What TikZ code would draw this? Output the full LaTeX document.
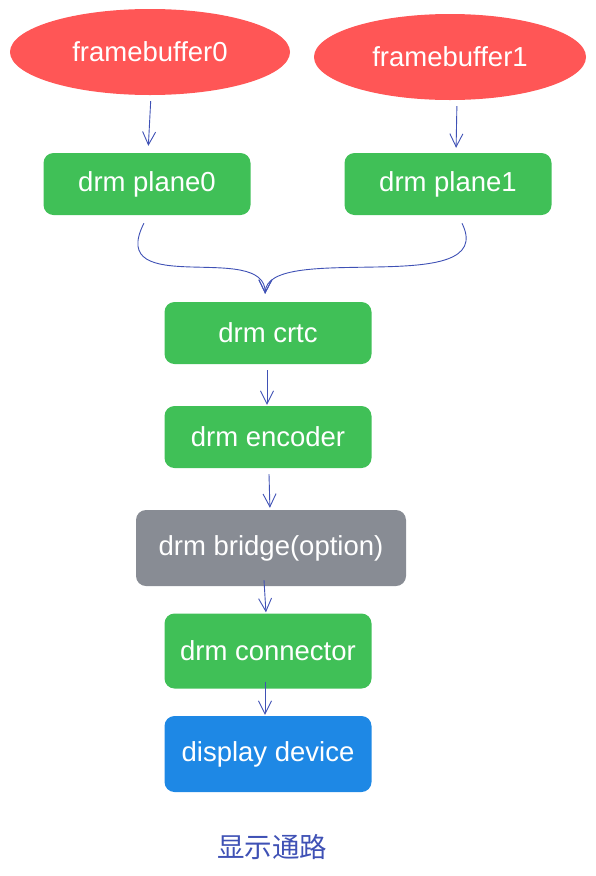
\documentclass[tikz,border=0pt]{standalone}
\usepackage{fontspec}
\setmainfont{Liberation Sans}
\newfontfamily\cjk{Noto Sans CJK SC}
\usetikzlibrary{shapes.geometric,arrows.meta}
\definecolor{FbRed}{HTML}{FF5656}
\definecolor{DrmGreen}{HTML}{40C057}
\definecolor{OptGrey}{HTML}{888C94}
\definecolor{DevBlue}{HTML}{1E88E5}
\definecolor{Wire}{HTML}{3F51B5}
\begin{document}
\begin{tikzpicture}[x=1pt, y=-1pt,
    fbuf/.style={ellipse, fill=FbRed, text=white, inner sep=0pt,
      minimum width=280pt, minimum height=86pt,
      font=\fontsize{27.5}{32}\selectfont},
    stage/.style={rounded corners=10pt, fill=DrmGreen, text=white,
      inner sep=0pt, minimum width=207pt, minimum height=62pt,
      font=\fontsize{27.5}{32}\selectfont},
    flow/.style={draw=Wire, line width=0.9pt,
      -{Straight Barb[length=13pt,width=13pt,line width=0.9pt]},
      shorten <=6pt, shorten >=1pt},
  ]
  \useasboundingbox (0,0) rectangle (596,876);
  % sources
  \node[fbuf] (fb0) at (150,52) {framebuffer0};
  \node[fbuf, minimum width=272pt] (fb1) at (450,57) {framebuffer1};
  % pipeline
  \node[stage] (plane0) at (147,184) {drm plane0};
  \node[stage] (plane1) at (448,184) {drm plane1};
  \node[stage] (crtc) at (268,333) {drm crtc};
  \node[stage] (enc) at (268,437) {drm encoder};
  \node[stage, fill=OptGrey, minimum width=270pt, minimum height=76pt]
    (bridge) at (271,548) {drm bridge(option)};
  \node[stage, minimum height=75pt] (conn) at (268,651) {drm connector};
  \node[stage, fill=DevBlue, minimum height=76pt]
    (disp) at (268,754) {display device};
  \node[text=Wire, font=\cjk\fontsize{27.5}{32}\selectfont] (caption)
    at (272,847) {显示通路};
  % wires
  \draw[flow, shorten >=7pt] ([xshift=1pt]fb0.south) -- ([xshift=1pt]plane0.north);
  \draw[flow, shorten >=5pt] ([xshift=7pt]fb1.south) -- ([xshift=8pt]plane1.north);
  \draw[flow, shorten <=9pt, shorten >=8pt] ([xshift=1pt]plane0.south)
    .. controls (105,300) and (266,240) .. ([xshift=-3pt]crtc.north);
  \draw[flow, shorten <=9pt, shorten >=8pt] ([xshift=10pt]plane1.south)
    .. controls (500,300) and (266,240) .. ([xshift=-3pt]crtc.north);
  \draw[flow] ([xshift=-1pt]crtc.south) -- ([xshift=-1pt]enc.north);
  \draw[flow, shorten >=2pt] (enc) -- (bridge);
  \draw[flow, shorten <=0pt] ([xshift=-7pt,yshift=6pt]bridge.south)
    -- ([xshift=-2pt]conn.north);
  \draw[flow, shorten <=0pt] ([xshift=-3pt,yshift=7pt]conn.south)
    -- ([xshift=-3pt]disp.north);
\end{tikzpicture}
\end{document}
